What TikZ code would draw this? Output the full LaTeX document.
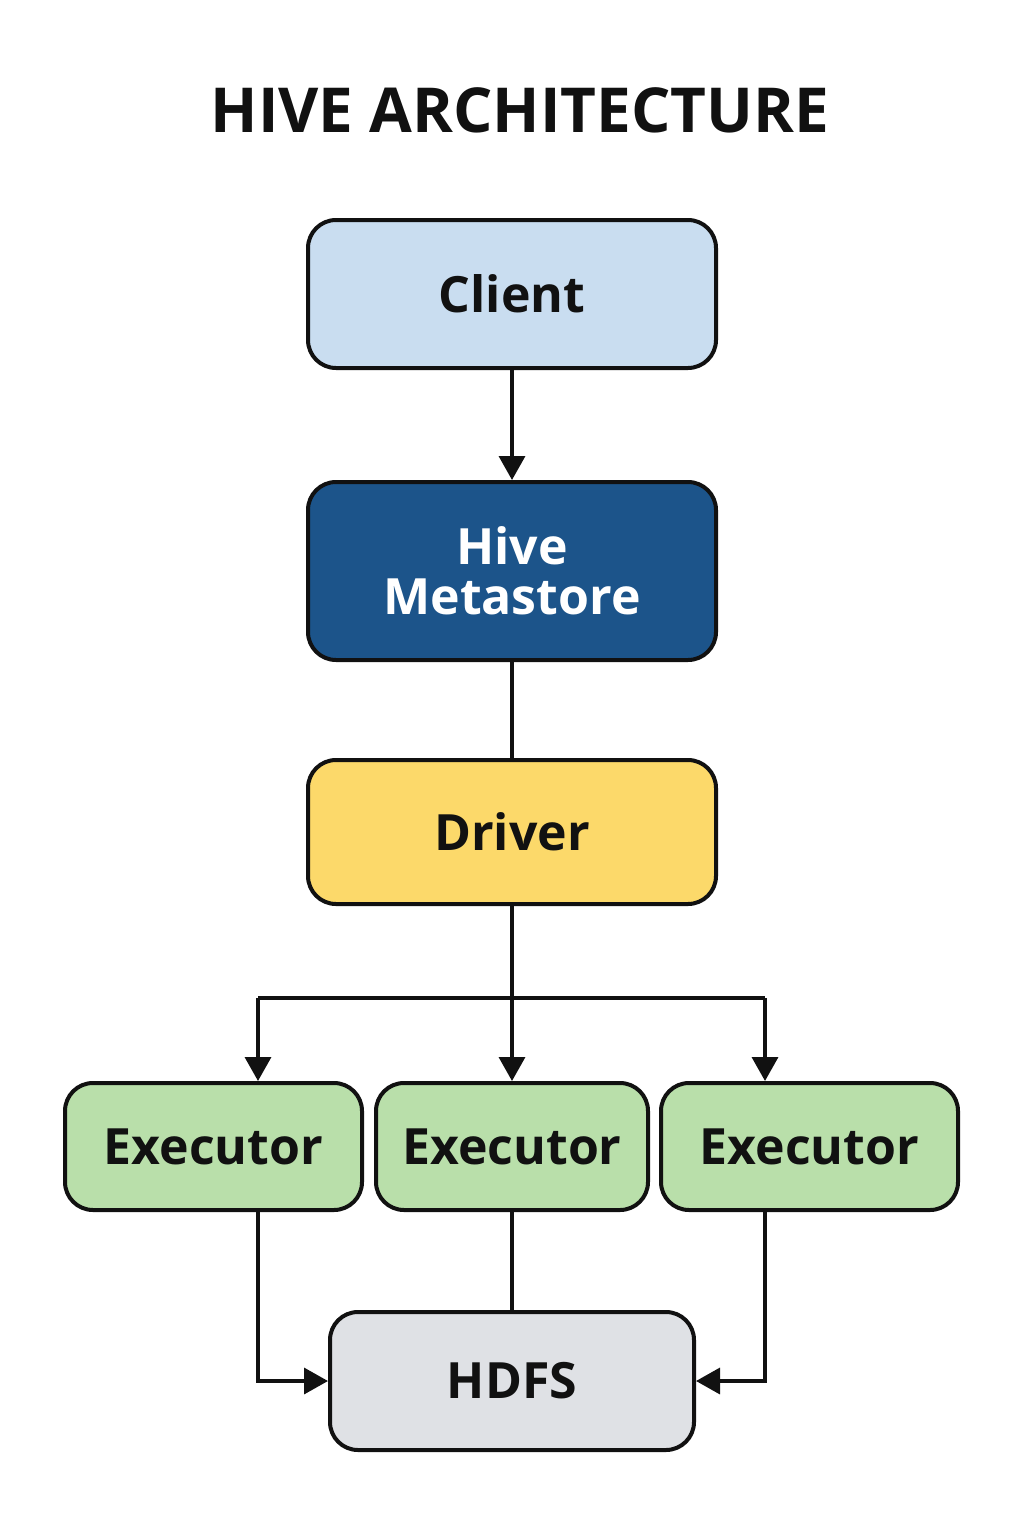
\documentclass[tikz,border=0pt]{standalone}
\usepackage{fontspec}
\setmainfont{Open Sans}
\usetikzlibrary{arrows.meta}
\definecolor{cl}{HTML}{C9DDF0}
\definecolor{ms}{HTML}{1C548A}
\definecolor{dr}{HTML}{FCD96A}
\definecolor{ex}{HTML}{B9DFAA}
\definecolor{hd}{HTML}{DFE1E5}
\definecolor{ink}{HTML}{111111}
\begin{document}
\begin{tikzpicture}[x=1pt,y=-1pt,
  box/.style={draw=ink,line width=4pt,rounded corners=28pt,font=\fontsize{50}{54}\selectfont\bfseries,text=ink,align=center,inner sep=0pt},
  conn/.style={draw=ink,line width=3.5pt},
  arr/.style={conn,-{Triangle[length=24pt,width=26pt]}}]
\useasboundingbox (0,0) rectangle (1024,1536);
\node[font=\fontsize{62}{66}\selectfont\bfseries,text=ink] (title) at (520,110) {HIVE ARCHITECTURE};
\node[box,fill=cl,minimum width=408pt,minimum height=148pt] (client) at (512,294) {Client};
\node[box,fill=ms,text=white,minimum width=408pt,minimum height=178pt] (meta) at (512,571) {Hive\\[-4pt]Metastore};
\node[box,fill=dr,minimum width=408pt,minimum height=144pt] (driver) at (512,832) {Driver};
\node[box,fill=ex,minimum width=297pt,minimum height=127pt] (e1) at (213.5,1146.5) {Executor};
\node[box,fill=ex,minimum width=272pt,minimum height=127pt] (e2) at (512,1146.5) {Executor};
\node[box,fill=ex,minimum width=297pt,minimum height=127pt] (e3) at (809.5,1146.5) {Executor};
\node[box,fill=hd,minimum width=364pt,minimum height=138pt] (hdfs) at (512,1381) {HDFS};
\coordinate (j) at (512,998);
\coordinate (jl) at (258,998);
\coordinate (jr) at (765,998);
\draw[arr] (client) -- (meta);
\draw[conn] (meta) -- (driver);
\draw[conn] (driver) -- (j);
\draw[conn] (jl) -- (jr);
\draw[arr] (jl) -- (jl |- e1.north);
\draw[arr] (j) -- (e2);
\draw[arr] (jr) -- (jr |- e3.north);
\draw[arr] (jl |- e1.south) |- (hdfs.west);
\draw[conn] (e2) -- (hdfs);
\draw[arr] (jr |- e3.south) |- (hdfs.east);
\end{tikzpicture}
\end{document}
